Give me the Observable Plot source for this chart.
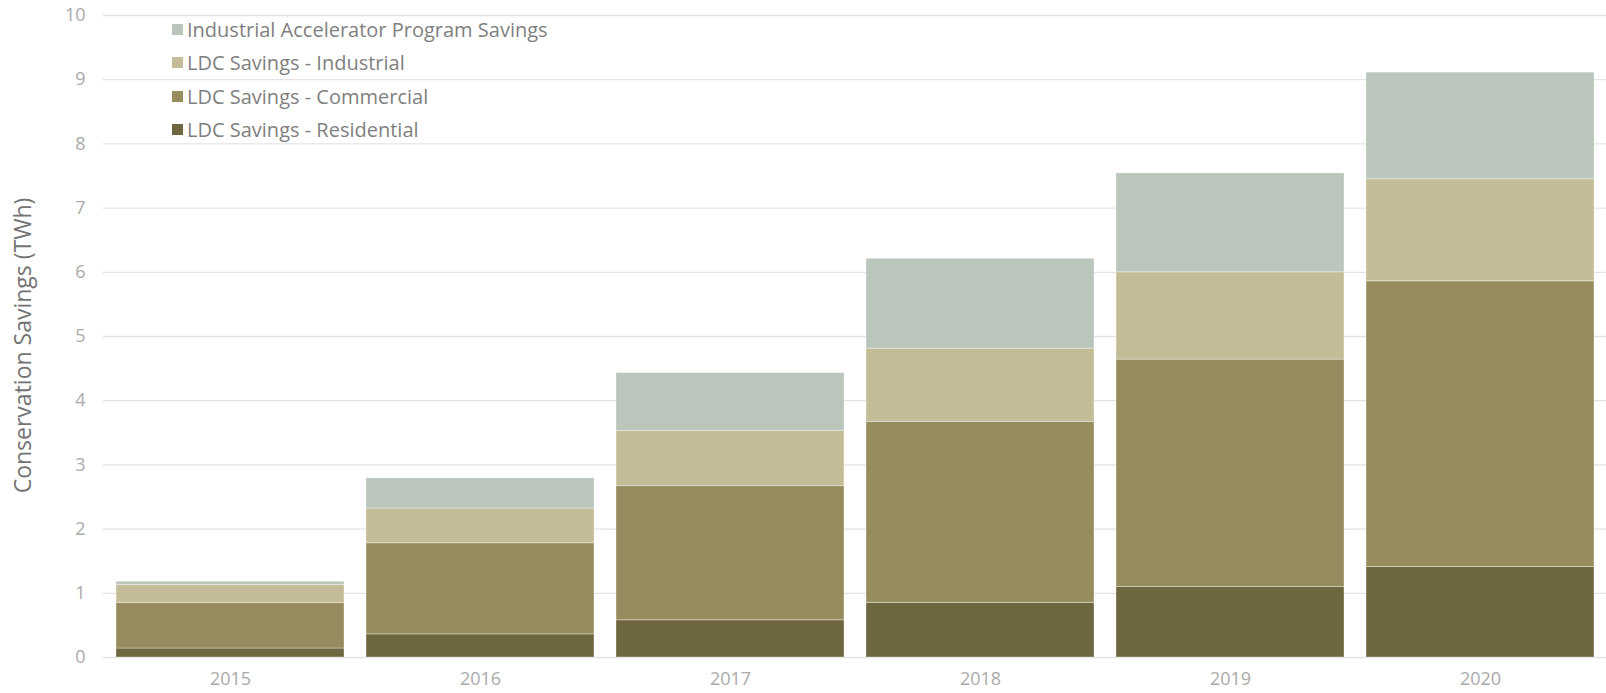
<!DOCTYPE html>
<html>
<head>
<meta charset="utf-8">
<script src="https://cdn.jsdelivr.net/npm/d3@7"></script>
<script src="https://cdn.jsdelivr.net/npm/@observablehq/plot@0.6"></script>
<style>
  html, body { margin: 0; padding: 0; background: #fff; }
  #wrap { position: relative; width: 1606px; height: 693px; font-family: "Open Sans", Lato, sans-serif; }
  #legend { position: absolute; left: 172px; top: 13px; }
  .row { display: flex; align-items: center; height: 33.3px; font-size: 20px; color: #7f7f7f; white-space: nowrap; }
  .sw { width: 11px; height: 11px; margin-right: 4px; flex: none; }
</style>
</head>
<body>
<div id="wrap"><div id="legend"></div></div>
<script>
const years = ["2015", "2016", "2017", "2018", "2019", "2020"];
const seriesNames = [
  "LDC Savings - Residential",
  "LDC Savings - Commercial",
  "LDC Savings - Industrial",
  "Industrial Accelerator Program Savings"
];
const residential = [0.14, 0.36, 0.58, 0.85, 1.10, 1.41];
const commercial  = [0.71, 1.42, 2.09, 2.82, 3.54, 4.45];
const industrial  = [0.28, 0.54, 0.86, 1.14, 1.36, 1.59];
const iap         = [0.05, 0.47, 0.90, 1.40, 1.54, 1.66];
const colors = ["#6e673f", "#978c5e", "#c4bc96", "#bac5bb"];
const yTicks = [0, 1, 2, 3, 4, 5, 6, 7, 8, 9, 10];
const yTitle = "Conservation Savings (TWh)";

const seriesValues = [residential, commercial, industrial, iap];
const data = [];
years.forEach((yr, i) => {
  seriesNames.forEach((s, j) => data.push({year: yr, series: s, value: seriesValues[j][i]}));
});

const chart = Plot.plot({
  width: 1606,
  height: 693,
  marginTop: 15,
  marginBottom: 36,
  marginLeft: 103,
  marginRight: 0,
  style: {fontFamily: "'Open Sans', Lato, sans-serif", background: "#fff"},
  x: {type: "band", domain: years, paddingInner: 0.09, paddingOuter: 0.045, label: null},
  y: {domain: [0, 10], label: null},
  color: {domain: seriesNames, range: colors},
  marks: [
    Plot.gridY(yTicks, {stroke: "#e3e3e3", strokeOpacity: 1, strokeWidth: 1.3}),
    Plot.barY(data, {x: "year", y: "value", fill: "series", order: seriesNames, stroke: "#ffffff", strokeOpacity: 0.35, strokeWidth: 1, inset: 0}),
    Plot.axisY(yTicks, {tickSize: 0, tickPadding: 18, fontSize: 18, fill: "#aaaaaa", label: null, tickFormat: d3.format("d")}),
    Plot.axisX({tickSize: 0, tickPadding: 15, fontSize: 18, fill: "#aaaaaa", label: null}),
    Plot.text([yTitle], {frameAnchor: "left", dx: -80, dy: 9, rotate: -90, text: d => d, fontSize: 23, fill: "#737373", textAnchor: "middle"})
  ]
});
document.getElementById("wrap").prepend(chart);
chart.style.display = "block";

const legend = document.getElementById("legend");
[...seriesNames].reverse().forEach(name => {
  const i = seriesNames.indexOf(name);
  const row = document.createElement("div");
  row.className = "row";
  const sw = document.createElement("span");
  sw.className = "sw";
  sw.style.background = colors[i];
  const t = document.createElement("span");
  t.textContent = name;
  row.append(sw, t);
  legend.append(row);
});
</script>
</body>
</html>
